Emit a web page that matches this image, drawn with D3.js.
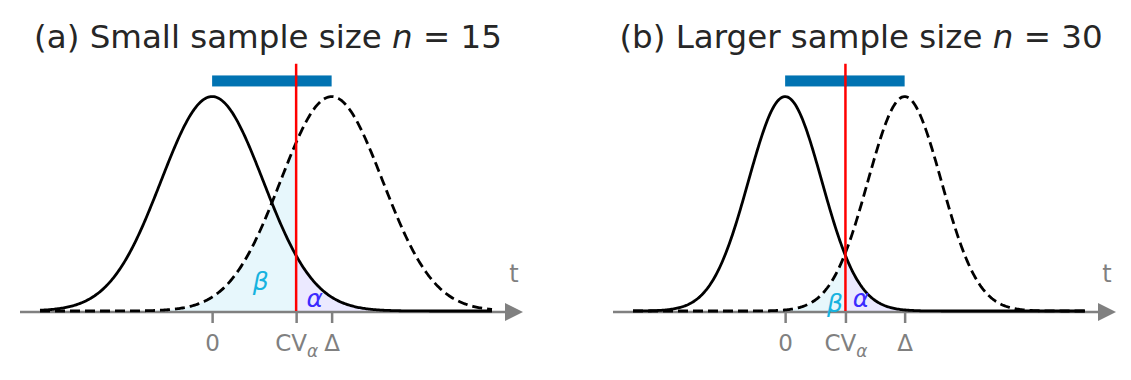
<!DOCTYPE html>
<html>
<head>
<meta charset="utf-8">
<script src="https://cdn.jsdelivr.net/npm/d3@7"></script>
<style>
  body { margin: 0; background: #fff; }
  svg { font-family: "DejaVu Sans", sans-serif; }
</style>
</head>
<body>
<svg width="1131" height="380"></svg>
<script>
// chart values
var titles = ["(a) Small sample size ", "(b) Larger sample size "];
var sampleSizes = [15, 30];
var deltas = [2.34, 3.26];
var critValues = [1.645, 1.645];
var xDomains = [[-3.37, 5.48], [-4.15, 8.18]];
var tickLabels = ["0", "CV", "\u0394"];
var betaPos = [[0.95, 0.039], [1.36, -0.002]];
var alphaPos = [[2.01, 0.0074], [2.07, 0.0074]];
var barLevel = 0.428, critTop = 0.46;

// layout
var curveLeft = [40, 633], curveWidth = 452;
var yBase = 311, yPeak = 96;

function main() {
    var svg = d3.select("svg");

    function pdf(x, mu) {
        return Math.exp(-0.5 * (x - mu) * (x - mu)) / Math.sqrt(2 * Math.PI);
    }

    var yScale = d3.scaleLinear().domain([0, 0.4]).range([yBase, yPeak]);

    titles.forEach(function(title, i) {
        var dom = xDomains[i],
            delta = deltas[i],
            cv = critValues[i];
        var xScale = d3.scaleLinear().domain(dom)
                       .range([curveLeft[i], curveLeft[i] + curveWidth]);
        var g = svg.append("g");

        var xs = d3.range(0, 401).map(function(k) {
            return dom[0] + (dom[1] - dom[0]) * k / 400;
        });
        var nullPts = xs.map(function(x) { return [x, pdf(x, 0)]; }),
            altPts = xs.map(function(x) { return [x, pdf(x, delta)]; });

        var area = d3.area()
                     .x(function(d) { return xScale(d[0]); })
                     .y0(yScale(0))
                     .y1(function(d) { return yScale(d[1]); });
        var line = d3.line()
                     .x(function(d) { return xScale(d[0]); })
                     .y(function(d) { return yScale(d[1]); });

        // beta region under alternative, left of CV
        var betaPts = altPts.filter(function(d) { return d[0] <= cv; });
        betaPts.push([cv, pdf(cv, delta)]);
        g.append("path").attr("d", area(betaPts))
         .attr("fill", "#17b3df").attr("fill-opacity", 0.1);
        // alpha region under null, right of CV
        var alphaPts = [[cv, pdf(cv, 0)]].concat(nullPts.filter(function(d) { return d[0] >= cv; }));
        g.append("path").attr("d", area(alphaPts))
         .attr("fill", "#3b2bff").attr("fill-opacity", 0.1);

        // axis
        var axisY = yScale(0) + 1;
        var x0 = xScale.range()[0] - 20, x1 = xScale.range()[1];
        g.append("line")
         .attr("x1", x0).attr("x2", x1 + 14)
         .attr("y1", axisY).attr("y2", axisY)
         .attr("stroke", "#808080").attr("stroke-width", 2.5);
        g.append("path")
         .attr("d", "M" + (x1 + 13) + "," + (axisY - 9) + "L" + (x1 + 31) + "," + axisY +
                    "L" + (x1 + 13) + "," + (axisY + 9) + "Z")
         .attr("fill", "#808080");

        var ax = g.append("g")
                  .attr("transform", "translate(0," + axisY + ")")
                  .call(d3.axisBottom(xScale)
                          .tickValues([0, cv, delta])
                          .tickSize(11)
                          .tickPadding(12)
                          .tickFormat(function(d, k) { return tickLabels[k]; }));
        ax.select(".domain").remove();
        ax.selectAll(".tick line").attr("stroke", "#808080").attr("stroke-width", 2.5);
        ax.selectAll(".tick text")
          .attr("fill", "#808080")
          .attr("font-size", "23px")
          .attr("font-family", "DejaVu Sans")
          .each(function(d, k) {
              if (k === 1) {
                  var t = d3.select(this).text("");
                  t.append("tspan").text("CV");
                  t.append("tspan").attr("dy", "0.35em").attr("font-size", "17px")
                   .attr("font-style", "italic").text("\u03b1");
              }
          });

        g.append("text")
         .attr("x", x1 + 22).attr("y", 282)
         .attr("text-anchor", "middle")
         .attr("fill", "#808080").attr("font-size", "24px")
         .text("t");

        // curves
        g.append("path").attr("d", line(nullPts))
         .attr("fill", "none").attr("stroke", "#000").attr("stroke-width", 2.8);
        g.append("path").attr("d", line(altPts))
         .attr("fill", "none").attr("stroke", "#000").attr("stroke-width", 2.8)
         .attr("stroke-dasharray", "10,5");

        // labels
        g.append("text")
         .attr("x", xScale(betaPos[i][0])).attr("y", yScale(betaPos[i][1]))
         .attr("text-anchor", "middle").attr("font-style", "italic")
         .attr("font-size", "25px").attr("fill", "#17b3df")
         .text("\u03b2");
        g.append("text")
         .attr("x", xScale(alphaPos[i][0])).attr("y", yScale(alphaPos[i][1]))
         .attr("text-anchor", "middle").attr("font-style", "italic")
         .attr("font-size", "25px").attr("fill", "#3b2bff")
         .text("\u03b1");

        // critical value line
        g.append("line")
         .attr("x1", xScale(cv)).attr("x2", xScale(cv))
         .attr("y1", yScale(0)).attr("y2", yScale(critTop))
         .attr("stroke", "#ff0000").attr("stroke-width", 2.5);

        // effect size bar
        g.append("rect")
         .attr("x", xScale(0)).attr("width", xScale(delta) - xScale(0))
         .attr("y", yScale(barLevel) - 5.5).attr("height", 11)
         .attr("fill", "#0173b2");
        g.append("line")
         .attr("x1", xScale(cv)).attr("x2", xScale(cv))
         .attr("y1", yScale(barLevel) - 5.5).attr("y2", yScale(barLevel) + 5.5)
         .attr("stroke", "#ff0000").attr("stroke-width", 2.5);

        // title
        var tt = svg.append("text")
                    .attr("x", x0 + 248).attr("y", 48)
                    .attr("text-anchor", "middle")
                    .attr("font-size", "32.5px").attr("fill", "#262626");
        tt.append("tspan").text(title);
        tt.append("tspan").attr("font-style", "italic").text("n");
        tt.append("tspan").text(" = " + sampleSizes[i]);
    });
}
main();
</script>
</body>
</html>
